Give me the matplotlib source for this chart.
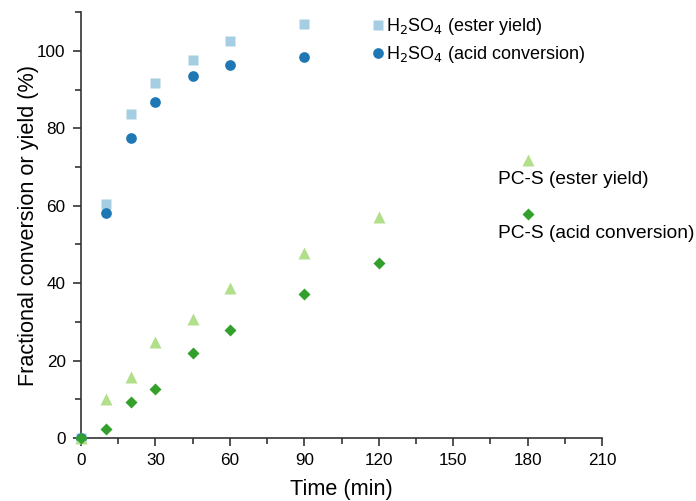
import matplotlib
matplotlib.use("Agg")
import matplotlib.pyplot as plt
from matplotlib.ticker import MultipleLocator

plt.rcParams['font.family'] = ['Liberation Sans', 'DejaVu Sans']

# H2SO4 catalyst
time_h2so4 = [0, 10, 20, 30, 45, 60, 90]
h2so4_ester = [0, 60.5, 83.7, 91.7, 97.7, 102.6, 107.0]
h2so4_acid = [0, 58.1, 77.5, 86.8, 93.5, 96.4, 98.4]

# PC-S catalyst
time_pcs = [0, 10, 20, 30, 45, 60, 90, 120, 180]
pcs_ester = [0, 10.1, 15.8, 24.8, 30.7, 38.8, 47.8, 57.1, 71.8]
pcs_acid = [0, 2.3, 9.3, 12.7, 22.0, 27.9, 37.2, 45.2, 57.9]

c_h_ester = '#a6cee3'
c_h_acid = '#1f78b4'
c_p_ester = '#b2df8a'
c_p_acid = '#33a02c'

fig = plt.figure(figsize=(6.96, 5.01), dpi=100)
ax = fig.add_axes([0.1164, 0.1257, 0.7486, 0.85])

h1, = ax.plot(time_h2so4, h2so4_ester, 's', color=c_h_ester, ms=6.8, mec='none',
              label='H$_2$SO$_4$ (ester yield)', clip_on=False, zorder=3)
h2, = ax.plot(time_h2so4, h2so4_acid, 'o', color=c_h_acid, ms=7.7, mec='none',
              label='H$_2$SO$_4$ (acid conversion)', clip_on=False, zorder=3)
ax.plot(time_pcs, pcs_ester, '^', color=c_p_ester, ms=8, mec='none',
        clip_on=False, zorder=3)
ax.plot(time_pcs, pcs_acid, 'D', color=c_p_acid, ms=6.5, mec='none',
        clip_on=False, zorder=3)

ax.annotate('PC-S (ester yield)', (time_pcs[-1], pcs_ester[-1]),
            xytext=(-21.6, -14), textcoords='offset points',
            ha='left', va='center', fontsize=13.8)
ax.annotate('PC-S (acid conversion)', (time_pcs[-1], pcs_acid[-1]),
            xytext=(-21.6, -14), textcoords='offset points',
            ha='left', va='center', fontsize=13.8, annotation_clip=False)

ax.legend(handles=[h1, h2], loc='upper left', bbox_to_anchor=(0.548, 1.008),
          frameon=False, fontsize=13, handlelength=0.45, handletextpad=0.25,
          labelspacing=0.4, borderaxespad=0, markerscale=1.0)

ax.set_xlim(0, 210)
ax.set_ylim(0, 110)
ax.xaxis.set_major_locator(MultipleLocator(30))
ax.xaxis.set_minor_locator(MultipleLocator(15))
ax.yaxis.set_minor_locator(MultipleLocator(10))
ax.set_yticks([0, 20, 40, 60, 80, 100])

for s in ['top', 'right']:
    ax.spines[s].set_visible(False)
for s in ['left', 'bottom']:
    ax.spines[s].set_color('#333333')
    ax.spines[s].set_linewidth(1.2)
ax.tick_params(which='major', length=6, width=1.2, color='#333333',
               labelsize=12.3, pad=5)
ax.tick_params(which='minor', length=4, width=1.2, color='#333333')

ax.set_xlabel('Time (min)', fontsize=15.6, labelpad=8)
ax.set_ylabel('Fractional conversion or yield (%)', fontsize=15.6, labelpad=-1)

fig.savefig('out.png', dpi=100)
